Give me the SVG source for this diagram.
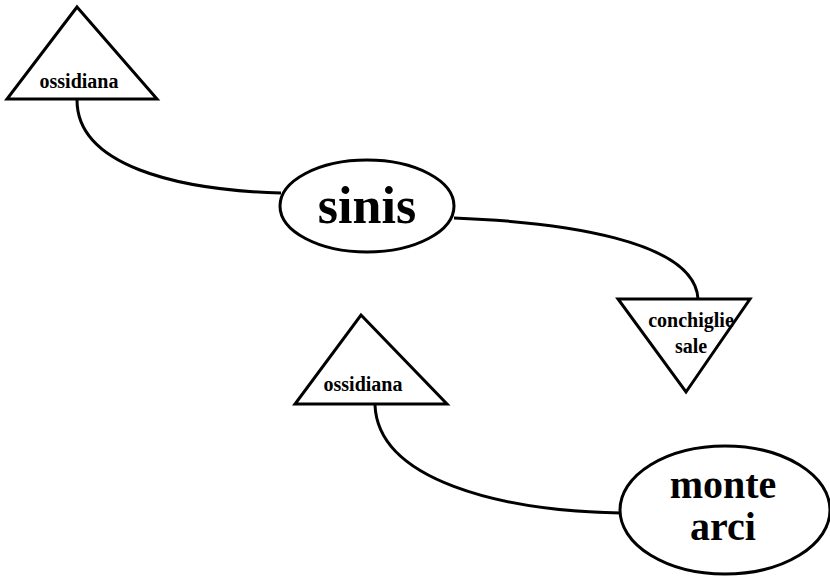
<svg xmlns="http://www.w3.org/2000/svg" width="830" height="579" viewBox="0 0 830 579">
<style>
.shape{fill:#fff;stroke:#000;stroke-width:3;stroke-linejoin:miter}
.edge{fill:none;stroke:#000;stroke-width:3}
text{font-family:"Liberation Serif","Times New Roman",serif;font-weight:bold;fill:#000;text-anchor:middle}
.s{font-size:20px}
.c{font-size:20px}
.l{font-size:52px}
.m{font-size:40px}
</style>
<rect width="830" height="579" fill="#fff"/>
<g id="connectors">
<path class="edge" d="M77,100 C77,165 175,190 281,193"/>
<path class="edge" d="M454,218 C560,222 695,240 698,299"/>
<path class="edge" d="M375,405 C378,480 500,511 621,513"/>
</g>
<g id="ossidiana1">
<polygon class="shape" points="77,7 157,99 7,99"/>
<text class="s" x="79" y="88">ossidiana</text>
</g>
<g id="sinis">
<ellipse class="shape" cx="367" cy="206" rx="87" ry="46"/>
<text class="l" x="367" y="223">sinis</text>
</g>
<g id="conchiglie">
<polygon class="shape" points="618,299 750,299 686,392"/>
<text class="c" x="691" y="327">conchiglie</text>
<text class="c" x="691" y="353">sale</text>
</g>
<g id="ossidiana2">
<polygon class="shape" points="361,315 447,404 295,404"/>
<text class="s" x="363" y="391">ossidiana</text>
</g>
<g id="montearci">
<ellipse class="shape" cx="725" cy="510" rx="105" ry="64"/>
<text class="m" x="723" y="498">monte</text>
<text class="m" x="723" y="540">arci</text>
</g>
</svg>
